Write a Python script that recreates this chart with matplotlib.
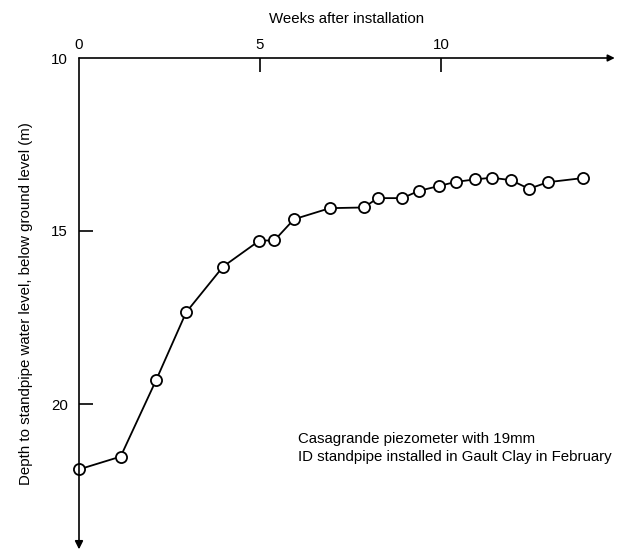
import matplotlib
matplotlib.use("Agg")
import matplotlib.pyplot as plt

weeks = [0.0, 1.15, 2.13, 2.96, 3.98, 4.98, 5.40, 5.94, 6.93, 7.87, 8.25,
         8.93, 9.39, 9.94, 10.41, 10.93, 11.40, 11.93, 12.43, 12.95, 13.92]
depth = [21.89, 21.52, 19.31, 17.35, 16.03, 15.28, 15.27, 14.66, 14.34, 14.32, 14.05,
         14.05, 13.84, 13.70, 13.58, 13.51, 13.46, 13.53, 13.78, 13.59, 13.47]
x_ticks = [0, 5, 10]
y_ticks = [10, 15, 20]

plt.rcParams['font.family'] = ['Liberation Sans', 'DejaVu Sans']

W, H = 618, 553
fig = plt.figure(figsize=(W / 100, H / 100), dpi=100)
xmax, ymax = 14.8, 24.2
left_px, top_px = 79, 58
width_px = xmax * 36.2
height_px = (ymax - 10) * 34.6
ax = fig.add_axes([left_px / W, 1 - (top_px + height_px) / H, width_px / W, height_px / H])
ax.set_xlim(0, xmax)
ax.set_ylim(ymax, 10)
for s in ax.spines.values():
    s.set_visible(False)

ax.plot(weeks, depth, color='black', lw=1.3, marker='o', markersize=8,
        markerfacecolor='white', markeredgecolor='black', markeredgewidth=1.3,
        zorder=3, clip_on=False)

# axes with arrows
ax.annotate('', xy=(1.0, 1.0), xytext=(0, 1.0), xycoords='axes fraction',
            arrowprops=dict(arrowstyle='-|>', color='black', lw=1.2,
                            mutation_scale=10, shrinkA=0, shrinkB=0))
ax.annotate('', xy=(0, 0), xytext=(0, 1.0), xycoords='axes fraction',
            arrowprops=dict(arrowstyle='-|>', color='black', lw=1.2,
                            mutation_scale=12, shrinkA=0, shrinkB=0))

ax.xaxis.set_ticks_position('top')
ax.xaxis.set_label_position('top')
ax.set_xticks(x_ticks)
ax.set_yticks(y_ticks)
ax.tick_params(axis='x', direction='in', length=10, width=1.2, pad=4, labelsize=10.8)
ax.tick_params(axis='y', direction='in', length=10, width=1.2, pad=8, labelsize=10.8)
# hide tick marks at the origin corner
ax.xaxis.get_major_ticks()[0].tick2line.set_visible(False)
ax.xaxis.get_major_ticks()[0].tick1line.set_visible(False)
ax.yaxis.get_major_ticks()[0].tick1line.set_visible(False)

ax.set_xlabel('Weeks after installation', fontsize=10.8, labelpad=11)
ax.set_ylabel('Depth to standpipe water level, below ground level (m)', fontsize=10.8, labelpad=13)

ax.text(6.05, 21.27, 'Casagrande piezometer with 19mm\nID standpipe installed in Gault Clay in February',
        fontsize=10.8, ha='left', va='center', linespacing=1.4)

fig.savefig('out.png', dpi=100)
